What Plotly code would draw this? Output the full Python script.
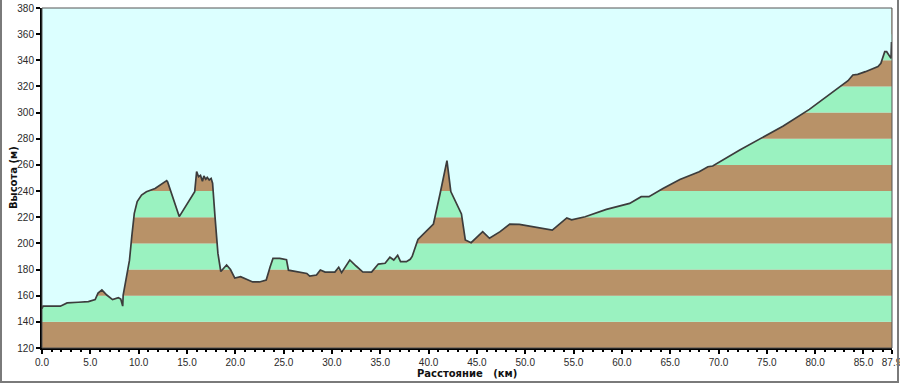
import plotly.graph_objects as go

# ---- data ----
dist_km = [0.0, 0.1, 1.9, 2.6, 3.75, 4.8, 5.5, 5.8, 6.2, 6.7, 7.3, 7.9, 8.15, 8.35, 8.4,
           8.8, 9.05, 9.3, 9.55, 9.85, 10.3, 10.8, 11.7, 12.9, 13.0, 14.2, 15.8, 16.0,
           16.2, 16.4, 16.6, 16.75, 16.95, 17.1, 17.3, 17.5, 17.65, 17.9, 18.2, 18.5,
           19.1, 19.5, 19.95, 20.55, 21.2, 21.8, 22.5, 23.2, 23.6, 23.9, 24.6, 25.3,
           25.5, 26.4, 27.4, 27.7, 28.4, 28.8, 29.3, 30.3, 30.7, 31.0, 31.85, 32.5,
           33.2, 34.1, 34.8, 35.5, 36.0, 36.4, 36.8, 37.1, 37.7, 38.1, 38.3, 38.9,
           39.7, 40.5, 41.2, 41.9, 42.3, 43.4, 43.8, 44.4, 45.6, 46.3, 47.4, 48.4,
           49.4, 50.8, 52.8, 54.3, 54.8, 56.2, 58.4, 60.8, 62.0, 62.8, 64.25, 66.0,
           68.0, 68.9, 69.4, 72.2, 74.25, 76.7, 79.4, 82.5, 83.4, 83.9, 84.4, 85.2,
           86.5, 86.8, 87.2, 87.4, 87.7, 87.85, 87.9]
elev_m = [150, 152, 152, 154.5, 155, 155.5, 157, 162, 164.5, 160.5, 157, 158.5, 157.5, 152, 160.5,
          176, 187, 206, 223, 232, 237, 239.5, 242, 248, 247, 220.5, 239.5, 255,
          251, 252, 247.5, 251.5, 249, 250.5, 248.5, 249.7, 246, 220.5, 192.5, 178.5,
          183.5, 180, 173.5, 174.5, 172.5, 170.5, 170.5, 172, 182, 188.5, 188.5, 187.5,
          179.5, 178.5, 177, 175, 175.8, 179.6, 178, 178, 181.7, 177.6, 187.3, 182.7,
          178.1, 178, 184.2, 184.8, 189.4, 187.3, 190.9, 186, 186, 187.8, 190, 203,
          209, 214.8, 238.3, 263.3, 239.6, 222.5, 202.6, 200.5, 209, 203.9, 209, 214.8,
          214.5, 212.8, 210.2, 219.5, 218, 220.4, 226, 230.6, 235.7, 235.7, 242, 248.9,
          254.8, 258.6, 259.2, 271.4, 279.6, 289.8, 302.5, 319.8, 324.4, 328.8, 329.3, 331.3,
          335.2, 337.7, 346.6, 346.6, 343.3, 341.5, 354]

x_tickvals = [0, 5, 10, 15, 20, 25, 30, 35, 40, 45, 50, 55, 60, 65, 70, 75, 80, 85, 87.9]
x_ticktext = ["0.0", "5.0", "10.0", "15.0", "20.0", "25.0", "30.0", "35.0", "40.0", "45.0",
              "50.0", "55.0", "60.0", "65.0", "70.0", "75.0", "80.0", "85.0", "87.9"]
y_tickvals = [120, 140, 160, 180, 200, 220, 240, 260, 280, 300, 320, 340, 360, 380]

X_MIN, X_MAX = 0, 87.9
Y_MIN, Y_MAX = 120, 380

SKY = "#DCFFFF"
BROWN = "#B89268"
GREEN = "#9AF2C0"
LINE = "#3C3C3C"

fig = go.Figure()

# stripes below the profile (drawn as background bands)
shapes = []
for i, lo in enumerate(y_tickvals[:-1]):
    shapes.append(dict(type="rect", xref="paper", yref="y", x0=0, x1=1,
                       y0=lo, y1=lo + 20, fillcolor=BROWN if i % 2 == 0 else GREEN,
                       line=dict(width=0), layer="below"))

# sky fill above the profile
fig.add_trace(go.Scatter(x=[X_MIN, X_MAX], y=[Y_MAX, Y_MAX], mode="lines",
                         line=dict(width=0, color=SKY), hoverinfo="skip", showlegend=False))
fig.add_trace(go.Scatter(x=dist_km, y=elev_m, mode="lines", fill="tonexty",
                         fillcolor=SKY, line=dict(color=LINE, width=1.7),
                         showlegend=False))

# plot area thin frame
shapes.append(dict(type="rect", xref="paper", yref="paper", x0=0, x1=1, y0=0, y1=1,
                   line=dict(color="#555555", width=1), layer="above"))

# outer window frame (left, bottom, right)
L, T, W, H = 42, 8, 850, 340
fx0 = -(L - 1) / W
fx1 = (900 - 2 - L) / W
fy0 = -(384 - 2 - (T + H)) / H
fy1 = (T + H) / H
shapes.append(dict(type="path", xref="paper", yref="paper",
                   path=f"M {fx0} {fy1} L {fx0} {fy0} L {fx1} {fy0} L {fx1} {fy1}",
                   line=dict(color="#7A7A7A", width=2), layer="above"))

tickfont = dict(family="Liberation Sans, Arial, sans-serif", size=10, color="#2A2A2A")

fig.update_layout(
    width=900, height=384,
    margin=dict(l=L, r=900 - L - W, t=T, b=384 - T - H, autoexpand=False),
    paper_bgcolor="white", plot_bgcolor=SKY,
    shapes=shapes,
    xaxis=dict(range=[X_MIN, X_MAX + 0.05], tickvals=x_tickvals, ticktext=x_ticktext,
               automargin=False, ticklabeloverflow="allow",
               showgrid=False, zeroline=False, showline=True, linecolor="black", linewidth=2,
               ticks="outside", ticklen=4, tickwidth=1.5, tickcolor="black",
               tickfont=tickfont,
               minor=dict(ticks="outside", ticklen=2, tickcolor="black", dtick=1, showgrid=False)),
    yaxis=dict(range=[Y_MIN, Y_MAX], tickvals=y_tickvals, automargin=False,
               ticklabeloverflow="allow",
               showgrid=False, zeroline=False, showline=True, linecolor="black", linewidth=2,
               ticks="outside", ticklen=4, tickwidth=1.5, tickcolor="black",
               tickfont=tickfont),
    annotations=[
        dict(text="<b>Расстояние   (км)</b>", xref="paper", yref="paper",
             x=0.5, y=-(373 - (T + H)) / H, xanchor="center", yanchor="middle",
             showarrow=False, font=dict(family="DejaVu Sans, sans-serif", size=10, color="#111111")),
        dict(text="<b>Высота (м)</b>", xref="paper", yref="paper",
             x=-(L - 13) / W, y=0.5, xanchor="center", yanchor="middle", textangle=-90,
             showarrow=False, font=dict(family="DejaVu Sans, sans-serif", size=10, color="#111111")),
    ],
)

fig.write_html("out.html", config={"displayModeBar": False},
               post_script="document.body.style.margin='0';document.body.style.overflow='hidden';")
